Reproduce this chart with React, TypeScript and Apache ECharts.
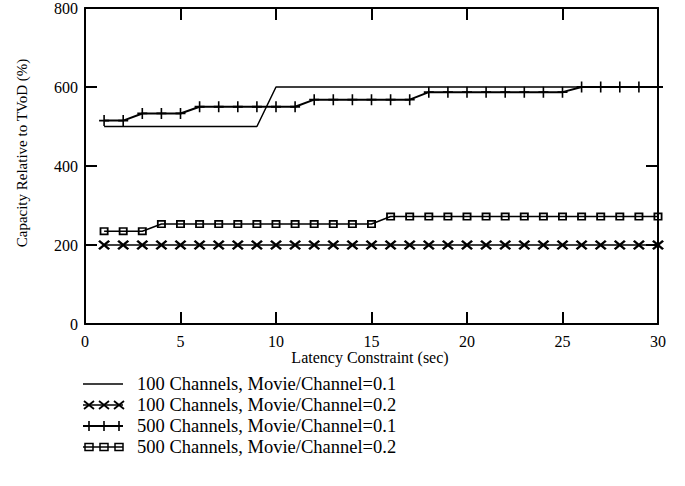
import React, { useEffect, useRef } from "react";
import * as echarts from "echarts";

const latency = [1, 2, 3, 4, 5, 6, 7, 8, 9, 10, 11, 12, 13, 14, 15, 16, 17, 18, 19, 20, 21, 22, 23, 24, 25, 26, 27, 28, 29, 30];
const ch100m01 = [500, 500, 500, 500, 500, 500, 500, 500, 500, 600, 600, 600, 600, 600, 600, 600, 600, 600, 600, 600, 600, 600, 600, 600, 600, 600, 600, 600, 600, 600];
const ch100m02 = [200, 200, 200, 200, 200, 200, 200, 200, 200, 200, 200, 200, 200, 200, 200, 200, 200, 200, 200, 200, 200, 200, 200, 200, 200, 200, 200, 200, 200, 200];
const ch500m01 = [515, 515, 533, 533, 533, 550, 550, 550, 550, 550, 550, 568, 568, 568, 568, 568, 568, 587, 587, 587, 587, 587, 587, 587, 587, 600, 600, 600, 600, 600];
const ch500m02 = [235, 235, 235, 253, 253, 253, 253, 253, 253, 253, 253, 253, 253, 253, 253, 272, 272, 272, 272, 272, 272, 272, 272, 272, 272, 272, 272, 272, 272, 272];
const seriesNames = [
  "100 Channels, Movie/Channel=0.1",
  "100 Channels, Movie/Channel=0.2",
  "500 Channels, Movie/Channel=0.1",
  "500 Channels, Movie/Channel=0.2",
];
const xTitle = "Latency Constraint (sec)";
const yTitle = "Capacity Relative to TVoD (%)";

const FONT = "Liberation Serif";
const X_PATH = "path://M0,1.5L1.5,0L5,3.5L8.5,0L10,1.5L6.5,5L10,8.5L8.5,10L5,6.5L1.5,10L0,8.5L3.5,5Z";
const PLUS_PATH = "path://M4.2,0H5.8V4.2H10V5.8H5.8V10H4.2V5.8H0V4.2H4.2Z";
const SQ_PATH = "path://M0,0H10V10H0Z M2,2V8H8V2Z";

function legendGraphics() {
  const els: any[] = [];
  const x0 = 83, x1 = 123, textX = 137;
  const rowY = [384, 405, 426, 447];
  const marks = [89, 104, 119];
  seriesNames.forEach((name, i) => {
    const y = rowY[i];
    els.push({ type: "line", shape: { x1: x0, y1: y, x2: x1, y2: y }, style: { stroke: "#000", lineWidth: i === 2 ? 1.8 : 1.3 } });
    marks.forEach((mx) => {
      if (i === 1) {
        els.push({ type: "line", shape: { x1: mx - 5, y1: y - 4, x2: mx + 5, y2: y + 4 }, style: { stroke: "#000", lineWidth: 1.8 } });
        els.push({ type: "line", shape: { x1: mx - 5, y1: y + 4, x2: mx + 5, y2: y - 4 }, style: { stroke: "#000", lineWidth: 1.8 } });
      } else if (i === 2) {
        els.push({ type: "line", shape: { x1: mx, y1: y - 5, x2: mx, y2: y + 5 }, style: { stroke: "#000", lineWidth: 1.6 } });
      } else if (i === 3) {
        els.push({ type: "rect", shape: { x: mx - 4, y: y - 3.5, width: 8, height: 7 }, style: { stroke: "#000", fill: "none", lineWidth: 1.5 } });
      }
    });
    els.push({
      type: "text",
      x: textX,
      y,
      style: { text: name, fontFamily: FONT, fontSize: 18.5, fill: "#000", align: "left", verticalAlign: "middle" },
    });
  });
  return els;
}

export default function App() {
  const ref = useRef<HTMLDivElement>(null);
  useEffect(() => {
    if (!ref.current) return;
    const chart = echarts.init(ref.current, undefined, { renderer: "svg" });
    const axisCommon = {
      type: "value" as const,
      axisLine: { show: true, onZero: false, lineStyle: { color: "#000", width: 2 } },
      axisTick: { show: true, inside: true, length: 12, lineStyle: { color: "#000", width: 2 } },
      splitLine: { show: false },
    };
    const labelStyle = { color: "#000", fontFamily: FONT, fontSize: 16 };
    const mk = (i: number, data: number[], extra: any) => ({
      name: seriesNames[i],
      type: "line",
      data: latency.map((x, k) => [x, data[k]]),
      lineStyle: { color: "#000", width: 1.5 },
      itemStyle: { color: "#000" },
      ...extra,
    });
    chart.setOption({
      animation: false,
      backgroundColor: "#fff",
      textStyle: { fontFamily: FONT },
      grid: { left: 85, right: 27, top: 8, bottom: 162, containLabel: false },
      xAxis: [
        { ...axisCommon, position: "bottom", min: 0, max: 30, interval: 5, axisLabel: { ...labelStyle, margin: 9 } },
        { ...axisCommon, position: "top", min: 0, max: 30, interval: 5, axisLabel: { show: false } },
      ],
      yAxis: [
        { ...axisCommon, position: "left", min: 0, max: 800, interval: 200, axisLabel: { ...labelStyle, margin: 7 } },
        { ...axisCommon, position: "right", min: 0, max: 800, interval: 200, axisLabel: { show: false } },
      ],
      series: [
        mk(0, ch100m01, { showSymbol: false, symbol: "none", lineStyle: { color: "#000", width: 1.5 } }),
        mk(1, ch100m02, { symbol: X_PATH, symbolSize: [12, 10] }),
        mk(2, ch500m01, { symbol: PLUS_PATH, symbolSize: [10, 11], lineStyle: { color: "#000", width: 2 } }),
        mk(3, ch500m02, { symbol: SQ_PATH, symbolSize: [9, 8] }),
      ],
      graphic: [
        {
          type: "text",
          x: 22,
          y: 153,
          rotation: Math.PI / 2,
          style: { text: yTitle, fontFamily: FONT, fontSize: 15, fill: "#000", align: "center", verticalAlign: "middle" },
        },
        {
          type: "text",
          x: 370,
          y: 357,
          style: { text: xTitle, fontFamily: FONT, fontSize: 16, fill: "#000", align: "center", verticalAlign: "middle" },
        },
        ...legendGraphics(),
      ],
    });
    return () => chart.dispose();
  }, []);
  return <div ref={ref} style={{ width: 685, height: 486, position: "absolute", left: 0, top: 0 }} />;
}
